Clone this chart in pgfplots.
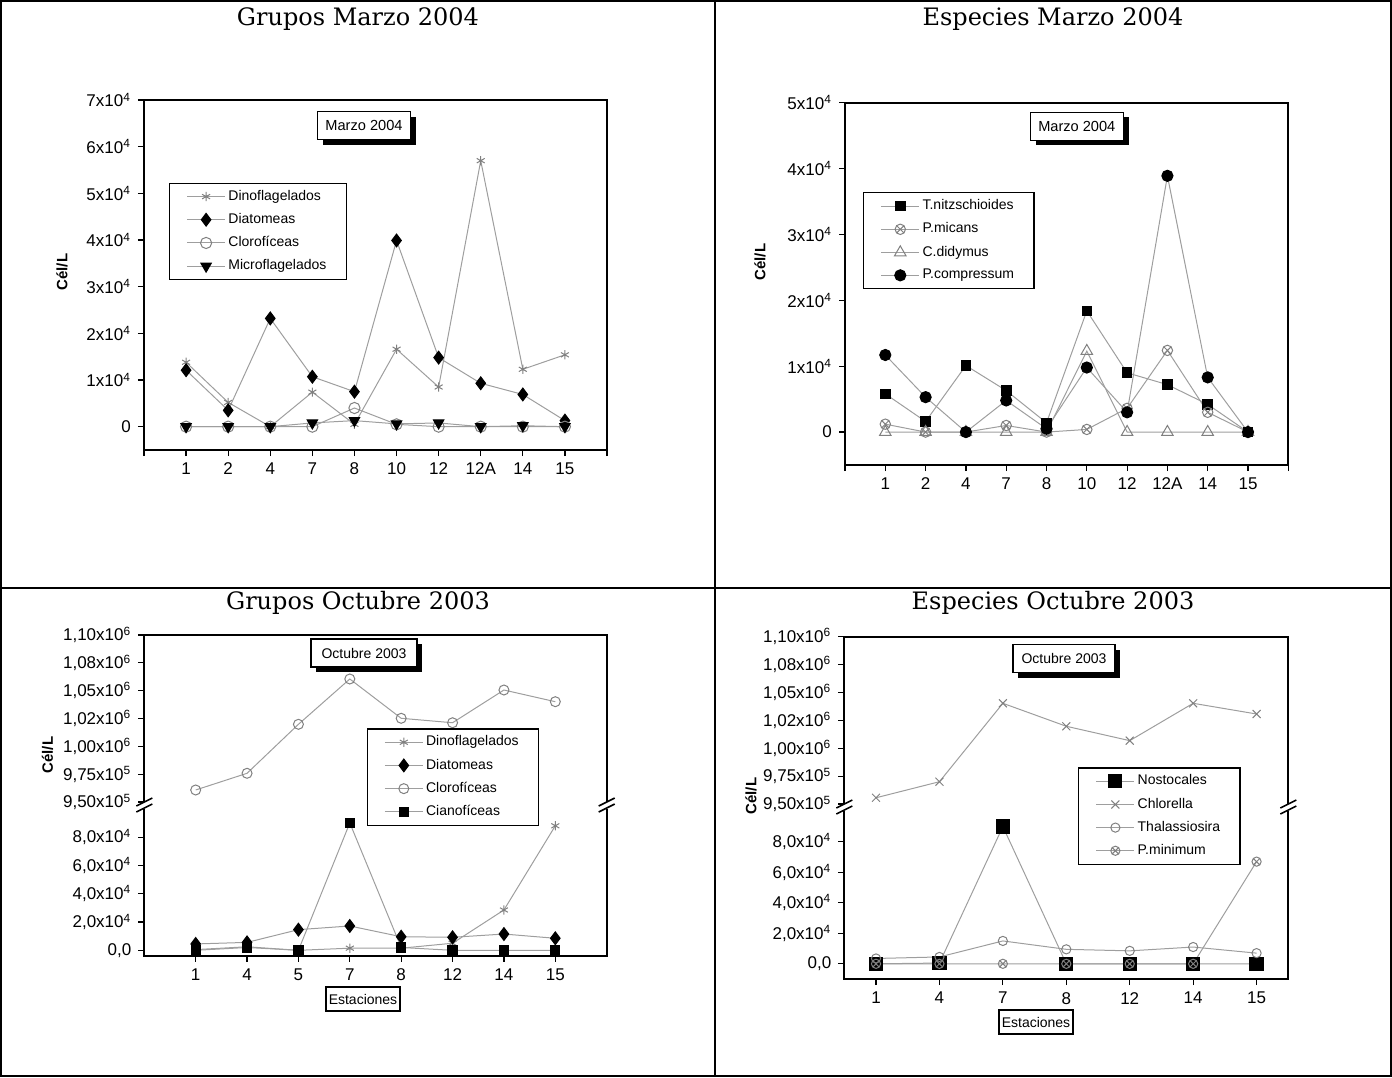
\documentclass[border=0pt]{standalone}
\usepackage{fontspec}
\setmainfont{Liberation Sans}
\newfontfamily\titlefont{DejaVu Serif}
\usepackage{pgfplots}
\pgfplotsset{compat=1.18}
\usetikzlibrary{shadows}
\definecolor{lg}{gray}{0.62}
\definecolor{mg}{gray}{0.5}
\newcommand{\sx}[2]{#1x10\textsuperscript{#2}}
\pgfplotsset{
 ori/.style={scale only axis, clip=false, scaled y ticks=false,
   axis line style={line width=0.9pt},
   tick style={line width=0.6pt, black},
   tick align=outside, tick pos=left, major tick length=3pt,
   ticklabel style={font=\fontsize{8.5}{10}\selectfont},
   legend cell align=left,
   legend image code/.code={\draw[mark repeat=2,mark phase=2] plot coordinates {(0pt,0pt)(9.5pt,0pt)(19pt,0pt)};},
   legend style={font=\fontsize{7}{8}\selectfont, draw=black, line width=0.6pt, fill=white,
     anchor=north west, inner xsep=8.5pt, inner ysep=2pt, row sep=2.2pt, nodes={inner sep=1.4pt}}},
 s/.style={color=lg, line width=0.5pt},
 dino/.style={s, mark=asterisk, mark size=2.3pt, mark options={draw=mg, line width=0.5pt}},
 diat/.style={s, mark=diamond*, mark size=3.2pt, mark options={draw=black, fill=black}},
 cloro/.style={s, mark=o, mark size=2.8pt, mark options={draw=mg, fill=white}},
 micro/.style={s, mark=triangle*, mark size=3pt, mark options={draw=black, fill=black, rotate=180}},
 tn/.style={s, mark=square*, mark size=2.4pt, mark options={draw=black, fill=black}},
 pm/.style={s, mark=otimes, mark size=2.6pt, mark options={draw=mg, fill=white}},
 cd/.style={s, mark=triangle, mark size=3.3pt, mark options={draw=mg, fill=white}},
 pc/.style={s, mark=*, mark size=2.8pt, mark options={draw=black, fill=black}},
 cian/.style={s, mark=square*, mark size=2.3pt, mark options={draw=black, fill=black}},
 nost/.style={s, mark=square*, mark size=3.3pt, mark options={draw=black, fill=black}},
 chlor/.style={s, mark=x, mark size=2.8pt, mark options={draw=mg}},
 thal/.style={s, mark=o, mark size=2.3pt, mark options={draw=mg, fill=white}},
 pmin/.style={s, mark=otimes, mark size=2.3pt, mark options={draw=mg, fill=white}},
 upperY/.style={ytick={950000,975000,1000000,1025000,1050000,1075000,1100000},
  yticklabels={{9,50x10\textsuperscript{5}},{9,75x10\textsuperscript{5}},{1,00x10\textsuperscript{6}},{1,02x10\textsuperscript{6}},{1,05x10\textsuperscript{6}},{1,08x10\textsuperscript{6}},{1,10x10\textsuperscript{6}}}},
 lowerY/.style={ytick={0,20000,40000,60000,80000},
  yticklabels={{0,0},{2,0x10\textsuperscript{4}},{4,0x10\textsuperscript{4}},{6,0x10\textsuperscript{4}},{8,0x10\textsuperscript{4}}}},
}
\tikzset{
 tagbox/.style={draw=black, line width=0.6pt, fill=white, font=\fontsize{7.3}{8}\selectfont, inner sep=0pt,
   minimum width=46.5pt, minimum height=14pt,
   drop shadow={shadow xshift=2.6pt, shadow yshift=-2.6pt, fill=black, opacity=1}},
 ylab/.style={rotate=90, font=\bfseries\fontsize{7.5}{8}\selectfont},
 xbox/.style={draw=black, line width=0.6pt, font=\fontsize{7}{8}\selectfont, minimum width=37pt, minimum height=12pt, inner sep=1pt},
 ttl/.style={font=\titlefont\fontsize{12}{14}\selectfont},
}
\begin{document}
\begin{tikzpicture}[x=0.5pt,y=-0.5pt]
\useasboundingbox (0,0) rectangle (1392,1077);
% table frame
\draw[line width=1pt] (1,1) rectangle (1391,1076);
\draw[line width=1pt] (715,1) -- (715,1076);
\draw[line width=1pt] (1,588) -- (1391,588);
\node[ttl] at (358,19) {Grupos Marzo 2004};
\node[ttl] at (1053,19) {Especies Marzo 2004};
\node[ttl] at (358,603) {Grupos Octubre 2003};
\node[ttl] at (1053,603) {Especies Octubre 2003};

% ---------------- Top left
\begin{axis}[ori, at={(72pt,-225pt)}, anchor=south west, width=231.5pt, height=175pt,
  xmin=-1, xmax=10, ymin=-5000, ymax=70000,
  xtick={0,...,9}, xticklabels={1,2,4,7,8,10,12,12A,14,15},
  extra x ticks={-1,10}, extra x tick labels={},
  ytick={0,10000,20000,30000,40000,50000,60000,70000},
  yticklabels={0,\sx{1}{4},\sx{2}{4},\sx{3}{4},\sx{4}{4},\sx{5}{4},\sx{6}{4},\sx{7}{4}},
  legend style={at={(axis description cs:0.054,0.764)}}]
\addplot[dino] coordinates {(0,13800)(1,5200)(2,0)(3,7400)(4,500)(5,16600)(6,8500)(7,57000)(8,12300)(9,15400)};
\addlegendentry{Dinoflagelados}
\addplot[diat] coordinates {(0,12100)(1,3500)(2,23200)(3,10700)(4,7500)(5,39900)(6,14800)(7,9300)(8,6900)(9,1300)};
\addlegendentry{Diatomeas}
\addplot[cloro] coordinates {(0,0)(1,0)(2,0)(3,0)(4,4000)(5,500)(6,0)(7,0)(8,0)(9,0)};
\addlegendentry{Clorofíceas}
\addplot[micro] coordinates {(0,0)(1,0)(2,0)(3,800)(4,1300)(5,600)(6,800)(7,0)(8,200)(9,0)};
\addlegendentry{Microflagelados}
\end{axis}
\node[tagbox] at (364,125.5) {Marzo 2004};
\node[ylab] at (62,272) {Cél/L};

% ---------------- Top right
\begin{axis}[ori, at={(422.5pt,-232.5pt)}, anchor=south west, width=221.65pt, height=181.15pt,
  xmin=-1, xmax=10, ymin=-5000, ymax=50000,
  xtick={0,...,9}, xticklabels={1,2,4,7,8,10,12,12A,14,15},
  extra x ticks={-1,10}, extra x tick labels={},
  ytick={0,10000,20000,30000,40000,50000},
  yticklabels={0,\sx{1}{4},\sx{2}{4},\sx{3}{4},\sx{4}{4},\sx{5}{4}},
  legend style={at={(axis description cs:0.041,0.753)}}]
\addplot[tn] coordinates {(0,5800)(1,1600)(2,10100)(3,6300)(4,1400)(5,18400)(6,9000)(7,7200)(8,4200)(9,0)};
\addlegendentry{T.nitzschioides}
\addplot[pm] coordinates {(0,1200)(1,0)(2,0)(3,1000)(4,0)(5,400)(6,3600)(7,12400)(8,3000)(9,0)};
\addlegendentry{P.micans}
\addplot[cd] coordinates {(0,0)(1,0)(2,0)(3,0)(4,0)(5,12300)(6,0)(7,0)(8,0)(9,0)};
\addlegendentry{C.didymus}
\addplot[pc] coordinates {(0,11700)(1,5300)(2,0)(3,4800)(4,500)(5,9800)(6,3000)(7,38900)(8,8300)(9,0)};
\addlegendentry{P.compressum}
\end{axis}
\node[tagbox] at (1076.8,126.2) {Marzo 2004};
\node[ylab] at (760,262) {Cél/L};

% ---------------- Bottom left, upper segment
\begin{axis}[ori, upperY, at={(72.15pt,-401pt)}, anchor=south west, width=231.2pt, height=83.5pt,
  xmin=-1, xmax=8, ymin=950000, ymax=1100000,
  axis line style={draw=none}, xtick=\empty]
\draw[line width=0.9pt] (rel axis cs:0,0) -- (rel axis cs:0,1) -- (rel axis cs:1,1) -- (rel axis cs:1,0);
\addplot[cloro, mark size=2.5pt] coordinates {(0,960800)(1,975800)(2,1019800)(3,1060500)(4,1025200)(5,1021200)(6,1050600)(7,1040100)};
\end{axis}
% Bottom left, lower segment
\begin{axis}[ori, lowerY, at={(72.15pt,-477.98pt)}, anchor=south west, width=231.2pt, height=73.58pt,
  xmin=-1, xmax=8, ymin=-4000, ymax=100000,
  axis line style={draw=none},
  xtick={0,...,7}, xticklabels={1,4,5,7,8,12,14,15},
  legend style={at={(axis description cs:0.481,1.547)}}]
\draw[line width=0.9pt] (rel axis cs:0,1) -- (rel axis cs:0,0) -- (rel axis cs:1,0) -- (rel axis cs:1,1);
\addplot[dino] coordinates {(0,500)(1,2500)(2,0)(3,1500)(4,1500)(5,5000)(6,28500)(7,88000)};
\addlegendentry{Dinoflagelados}
\addplot[diat] coordinates {(0,4500)(1,5600)(2,14600)(3,17200)(4,9600)(5,9200)(6,11500)(7,8500)};
\addlegendentry{Diatomeas}
\addlegendimage{cloro, mark size=2.5pt}
\addlegendentry{Clorofíceas}
\addplot[cian] coordinates {(0,0)(1,2000)(2,0)(3,90000)(4,2000)(5,0)(6,0)(7,0)};
\addlegendentry{Cianofíceas}
\end{axis}
\node[tagbox, minimum width=53pt, font=\fontsize{7}{8}\selectfont] at (364,653) {Octubre 2003};
\node[ylab] at (47.5,755) {Cél/L};
\node[xbox] at (363,999) {Estaciones};
\foreach \xx in {144.3,606.7}{
  \draw[line width=0.8pt] (\xx-8,806) -- (\xx+8,798);
  \draw[line width=0.8pt] (\xx-8,812) -- (\xx+8,804);
}

% ---------------- Bottom right, upper segment
\begin{axis}[ori, upperY, at={(422.15pt,-402pt)}, anchor=south west, width=222pt, height=83.65pt,
  xmin=-0.5, xmax=6.5, ymin=950000, ymax=1100000,
  axis line style={draw=none}, xtick=\empty]
\draw[line width=0.9pt] (rel axis cs:0,0) -- (rel axis cs:0,1) -- (rel axis cs:1,1) -- (rel axis cs:1,0);
\addplot[chlor] coordinates {(0,955600)(1,970000)(2,1040300)(3,1019700)(4,1006800)(5,1040300)(6,1030700)};
\end{axis}
% Bottom right, lower segment
\begin{axis}[ori, lowerY, at={(422.15pt,-489.525pt)}, anchor=south west, width=222pt, height=83.875pt,
  xmin=-0.5, xmax=6.5, ymin=-10000, ymax=100000,
  axis line style={draw=none},
  xtick={0,...,6}, xticklabels={1,4,7,8,12,14,15},
  legend style={at={(axis description cs:0.527,1.262)}}]
\draw[line width=0.9pt] (rel axis cs:0,1) -- (rel axis cs:0,0) -- (rel axis cs:1,0) -- (rel axis cs:1,1);
\addplot[nost] coordinates {(0,0)(1,500)(2,90000)(3,0)(4,0)(5,0)(6,0)};
\addlegendentry{Nostocales}
\addlegendimage{chlor}
\addlegendentry{Chlorella}
\addplot[thal] coordinates {(0,3500)(1,4500)(2,15000)(3,9500)(4,8500)(5,11000)(6,7000)};
\addlegendentry{Thalassiosira}
\addplot[pmin] coordinates {(0,0)(1,0)(2,0)(3,0)(4,0)(5,0)(6,67000)};
\addlegendentry{P.minimum}
\end{axis}
\node[tagbox, minimum width=51pt, font=\fontsize{7}{8}\selectfont] at (1064,658.3) {Octubre 2003};
\node[ylab] at (751,796) {Cél/L};
\node[xbox] at (1036,1022) {Estaciones};
\foreach \xx in {844.3,1288.3}{
  \draw[line width=0.8pt] (\xx-8,808) -- (\xx+8,800);
  \draw[line width=0.8pt] (\xx-8,814) -- (\xx+8,806);
}
\end{tikzpicture}
\end{document}
